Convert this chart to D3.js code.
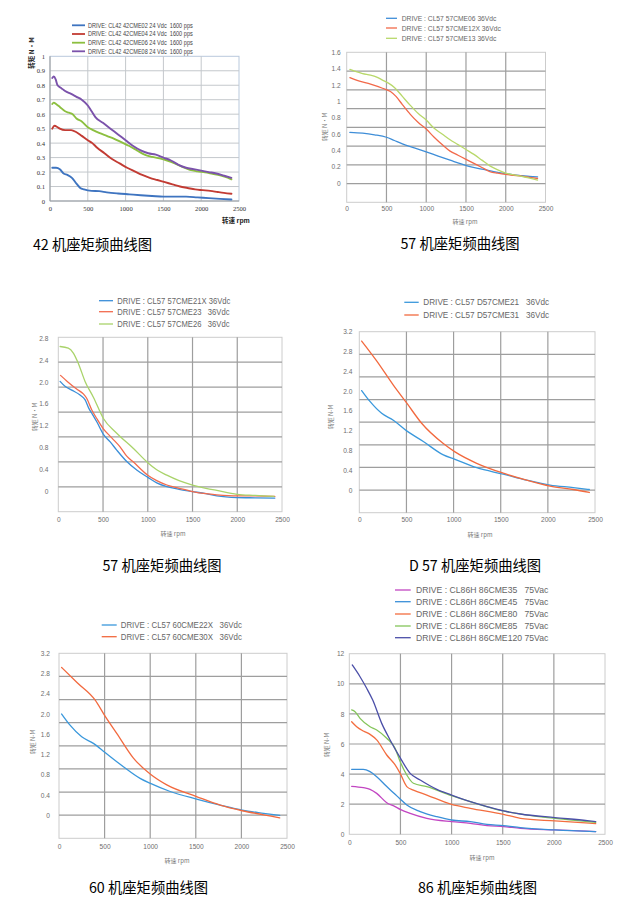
<!DOCTYPE html>
<html><head><meta charset="utf-8">
<script src="https://cdn.jsdelivr.net/npm/d3@7"></script>
<style>body{margin:0;background:#fff}svg{display:block}</style>
</head><body><svg id="c" width="635" height="914"></svg>
<script>
// ---------- DATA ----------
const xTicks = [0, 500, 1000, 1500, 2000, 2500];

// 42 frame
const y42Ticks = [0, 0.1, 0.2, 0.3, 0.4, 0.5, 0.6, 0.7, 0.8, 0.9, 1];
const names42 = ["DRIVE: CL42 42CME02 24 Vdc  1600 pps", "DRIVE: CL42 42CME04 24 Vdc  1600 pps", "DRIVE: CL42 42CME06 24 Vdc  1600 pps", "DRIVE: CL42 42CME08 24 Vdc  1600 pps"];
const cme42_02 = [[30,0.23],[80,0.23],[130,0.22],[180,0.19],[230,0.18],[290,0.16],[350,0.12],[400,0.09],[450,0.08],[550,0.07],[650,0.068],[750,0.06],[900,0.052],[1050,0.046],[1200,0.04],[1350,0.035],[1500,0.03],[1650,0.03],[1800,0.03],[1950,0.025],[2100,0.02],[2250,0.015],[2400,0.01]];
const cme42_04 = [[30,0.50],[60,0.52],[100,0.51],[130,0.50],[200,0.49],[280,0.49],[350,0.475],[420,0.45],[500,0.42],[560,0.40],[620,0.37],[720,0.33],[820,0.29],[920,0.26],[1020,0.23],[1120,0.205],[1220,0.18],[1320,0.16],[1420,0.145],[1520,0.13],[1620,0.115],[1720,0.10],[1820,0.09],[1920,0.08],[2020,0.075],[2120,0.07],[2220,0.062],[2300,0.056],[2400,0.05]];
const cme42_06 = [[30,0.67],[50,0.68],[80,0.67],[130,0.65],[200,0.62],[250,0.61],[300,0.60],[350,0.57],[420,0.55],[500,0.51],[570,0.49],[650,0.47],[750,0.45],[850,0.43],[950,0.405],[1050,0.38],[1150,0.35],[1250,0.32],[1350,0.305],[1450,0.295],[1550,0.28],[1650,0.26],[1750,0.235],[1850,0.215],[1950,0.205],[2050,0.198],[2150,0.188],[2250,0.178],[2350,0.162],[2400,0.15]];
const cme42_08 = [[30,0.85],[50,0.86],[75,0.84],[100,0.80],[150,0.78],[200,0.76],[280,0.74],[350,0.72],[420,0.70],[500,0.66],[550,0.62],[600,0.58],[700,0.54],[800,0.50],[900,0.46],[1000,0.42],[1100,0.38],[1200,0.35],[1300,0.33],[1400,0.32],[1500,0.30],[1600,0.28],[1700,0.25],[1800,0.23],[1900,0.22],[2000,0.21],[2100,0.20],[2200,0.19],[2300,0.175],[2400,0.16]];

// 57 frame (first)
const y57aTicks = [0, 0.2, 0.4, 0.6, 0.8, 1, 1.2, 1.4, 1.6];
const names57a = ["DRIVE : CL57 57CME06 36Vdc", "DRIVE : CL57 57CME12X 36Vdc", "DRIVE : CL57 57CME13 36Vdc"];
const cme57_06 = [[40,0.62],[200,0.61],[350,0.59],[500,0.56],[600,0.52],[700,0.48],[850,0.43],[1000,0.38],[1150,0.33],[1300,0.28],[1450,0.23],[1550,0.20],[1700,0.17],[1850,0.14],[2000,0.115],[2100,0.10],[2200,0.09],[2300,0.08],[2400,0.075]];
const cme57_12x = [[40,1.29],[150,1.25],[300,1.21],[450,1.16],[550,1.12],[620,1.06],[700,0.96],[800,0.84],[900,0.74],[1000,0.66],[1100,0.56],[1200,0.47],[1300,0.39],[1400,0.34],[1500,0.29],[1600,0.24],[1700,0.19],[1800,0.14],[1900,0.12],[2000,0.105],[2100,0.095],[2200,0.085],[2300,0.07],[2400,0.055]];
const cme57_13 = [[40,1.39],[100,1.37],[200,1.34],[300,1.32],[370,1.30],[450,1.26],[530,1.22],[600,1.17],[700,1.06],[800,0.95],[900,0.85],[1000,0.77],[1100,0.67],[1200,0.60],[1300,0.53],[1400,0.47],[1500,0.41],[1600,0.35],[1700,0.28],[1800,0.21],[1900,0.16],[2000,0.12],[2100,0.10],[2200,0.08],[2300,0.06],[2400,0.035]];

// 57 frame (second)
const y57bTicks = [0, 0.4, 0.8, 1.2, 1.6, 2.0, 2.4, 2.8];
const names57b = ["DRIVE : CL57 57CME21X 36Vdc", "DRIVE : CL57 57CME23   36Vdc", "DRIVE : CL57 57CME26   36Vdc"];
const cme57_21x = [[20,2.01],[75,1.92],[150,1.85],[243,1.76],[300,1.67],[340,1.52],[373,1.43],[430,1.27],[504,1.04],[580,0.90],[653,0.75],[765,0.54],[880,0.38],[1000,0.25],[1100,0.15],[1213,0.08],[1350,0.03],[1500,-0.01],[1650,-0.05],[1772,-0.09],[2000,-0.12],[2200,-0.125],[2420,-0.13]];
const cme57_23 = [[25,2.12],[100,2.01],[205,1.87],[280,1.78],[317,1.70],[373,1.49],[430,1.33],[504,1.14],[600,0.97],[690,0.81],[765,0.64],[840,0.53],[1000,0.29],[1100,0.19],[1213,0.11],[1350,0.05],[1500,-0.01],[1650,-0.05],[1772,-0.07],[2000,-0.09],[2200,-0.09],[2420,-0.10]];
const cme57_26 = [[20,2.65],[112,2.62],[168,2.53],[224,2.34],[299,2.01],[392,1.72],[504,1.33],[653,1.06],[840,0.78],[1000,0.52],[1100,0.39],[1213,0.29],[1350,0.19],[1500,0.11],[1650,0.05],[1772,0.01],[2000,-0.06],[2200,-0.08],[2410,-0.10]];

// D57 frame
const yD57Ticks = [0, 0.4, 0.8, 1.2, 1.6, 2.0, 2.4, 2.8, 3.2];
const namesD57 = ["DRIVE : CL57 D57CME21   36Vdc", "DRIVE : CL57 D57CME31   36Vdc"];
const d57_21 = [[25,2.01],[113,1.79],[237,1.55],[361,1.41],[506,1.19],[679,0.98],[891,0.71],[1015,0.62],[1245,0.45],[1527,0.32],[1775,0.20],[2023,0.10],[2270,0.05],[2440,0.01]];
const d57_31 = [[25,3.01],[184,2.61],[361,2.12],[506,1.75],[661,1.35],[891,0.94],[1015,0.77],[1245,0.54],[1527,0.34],[1775,0.20],[2023,0.08],[2270,0.01],[2440,-0.05]];

// 60 frame
const y60Ticks = [0, 0.4, 0.8, 1.2, 1.6, 2.0, 2.4, 2.8, 3.2];
const names60 = ["DRIVE : CL57 60CME22X   36Vdc", "DRIVE : CL57 60CME30X   36Vdc"];
const cme60_22x = [[29,2.00],[121,1.78],[249,1.55],[377,1.42],[505,1.24],[706,0.96],[889,0.73],[1003,0.63],[1219,0.47],[1508,0.32],[1768,0.20],[2010,0.10],[2244,0.04],[2420,0.00]];
const cme60_30x = [[29,2.92],[200,2.62],[395,2.28],[505,1.96],[633,1.62],[816,1.13],[1003,0.81],[1182,0.60],[1508,0.37],[1768,0.20],[2010,0.09],[2244,0.01],[2420,-0.05]];

// 86 frame
const y86Ticks = [0, 2, 4, 6, 8, 10, 12];
const names86 = ["DRIVE : CL86H 86CME35   75Vac", "DRIVE : CL86H 86CME45   75Vac", "DRIVE : CL86H 86CME80   75Vac", "DRIVE : CL86H 86CME85   75Vac", "DRIVE : CL86H 86CME120 75Vac"];
const cme86_35 = [[23,3.19],[137,3.10],[203,2.99],[268,2.72],[366,2.10],[448,1.84],[497,1.66],[595,1.39],[758,1.06],[1000,0.84],[1183,0.73],[1346,0.58],[1507,0.51],[1673,0.40],[2010,0.29],[2409,0.18]];
const cme86_45 = [[23,4.32],[137,4.32],[203,4.16],[268,3.83],[366,3.17],[448,2.66],[497,2.35],[562,1.95],[693,1.51],[856,1.17],[1000,0.95],[1183,0.84],[1346,0.66],[1507,0.58],[1673,0.44],[2010,0.29],[2409,0.18]];
const cme86_80 = [[23,7.48],[72,7.15],[137,6.86],[203,6.64],[268,6.27],[366,5.27],[448,4.61],[497,4.05],[562,3.17],[627,2.94],[758,2.61],[1000,1.99],[1183,1.73],[1507,1.33],[1673,1.06],[2010,0.89],[2409,0.71]];
const cme86_85 = [[23,8.26],[56,8.15],[105,7.70],[203,7.15],[268,6.93],[366,6.38],[448,5.71],[497,4.83],[562,3.94],[627,3.39],[758,3.17],[1000,2.57],[1183,2.17],[1507,1.55],[1738,1.28],[2010,1.06],[2409,0.80]];
const cme86_120 = [[29,11.25],[105,10.47],[170,9.70],[229,8.92],[317,7.37],[399,6.27],[497,5.09],[595,4.05],[693,3.61],[856,2.99],[1000,2.61],[1183,2.17],[1346,1.84],[1507,1.55],[1673,1.35],[2010,1.11],[2327,0.91],[2409,0.84]];

const captions = ["42 机座矩频曲线图", "57 机座矩频曲线图", "57 机座矩频曲线图", "D 57 机座矩频曲线图", "60 机座矩频曲线图", "86 机座矩频曲线图"];

// ---------- LAYOUT / STYLE ----------
const SANS = "'Liberation Sans', Arial, sans-serif";
const xcol = ["#3e74c0", "#c23b33", "#8cbf3f", "#7b52ab"];
const panels = [
  { left:50, right:239, top:56.3, bottom:201, zeroY:201, topY:56.3, yMax:1, rows:10,
    yTicks:y42Ticks, fmt:d3.format(""), yPad:5, xPad:5.5, excel:true,
    series:[cme42_02,cme42_04,cme42_06,cme42_08], names:names42, colors:xcol, lw:1.9,
    leg:{x1:72, x2:85, tx:88, ys:[25.3,34,42.7,51.3], fs:6.5, sx:0.86},
    yTitle:{x:32, y:53, t:"转矩 N·M"}, xTitle:{x:236, y:221, t:"转速 rpm"} },
  { left:346.7, right:545.5, top:52.3, bottom:202.3, zeroY:183, topY:52.3, yMax:1.6, rows:8,
    yTicks:y57aTicks, fmt:d3.format(""), yPad:6, xPad:3.8,
    series:[cme57_06,cme57_12x,cme57_13], names:names57a, colors:["#3f8ed8","#f2694a","#b8d86a"], lw:1.3,
    leg:{x1:386, x2:397, tx:401.7, ys:[18.3,28,38.3], fs:8, sx:0.84},
    yTitle:{x:325, y:127, t:"转矩 N·M"}, xTitle:{x:465, y:222, t:"转速 rpm"} },
  { left:58.3, right:282, top:337.3, bottom:511.7, zeroY:491, topY:338.3, yMax:2.8, rows:7,
    yTicks:y57bTicks, fmt:d => d===0 ? "0" : d3.format(".1f")(d), yPad:10, xPad:5.3,
    series:[cme57_21x,cme57_23,cme57_26], names:names57b, colors:["#3a8ed8","#f26b4e","#a9d36a"], lw:1.3,
    leg:{x1:99, x2:113, tx:117.3, ys:[300.7,311.7,324], fs:8.8, sx:0.87},
    yTitle:{x:35, y:417, t:"转矩 N·M"}, xTitle:{x:173, y:534, t:"转速 rpm"} },
  { left:359.3, right:595, top:331.7, bottom:512.7, zeroY:490, topY:331.7, yMax:3.2, rows:8,
    yTicks:yD57Ticks, fmt:d => d===0 ? "0" : d3.format(".1f")(d), yPad:7, xPad:4.3,
    series:[d57_21,d57_31], names:namesD57, colors:["#3a98dc","#f2693e"], lw:1.3,
    leg:{x1:404.3, x2:418.7, tx:423.3, ys:[302.3,315], fs:9.1, sx:0.9},
    yTitle:{x:331, y:417, t:"转矩 N-M"}, xTitle:{x:480, y:535, t:"转速 rpm"} },
  { left:59, right:287, top:653.3, bottom:838.3, zeroY:815.3, topY:653.3, yMax:3.2, rows:8,
    yTicks:y60Ticks, fmt:d => d===0 ? "0" : d3.format(".1f")(d), yPad:9, xPad:6,
    series:[cme60_22x,cme60_30x], names:names60, colors:["#3a98dc","#f2693e"], lw:1.3,
    leg:{x1:101.7, x2:116.7, tx:120.7, ys:[625,636.7], fs:9.1, sx:0.87},
    yTitle:{x:33, y:742, t:"转矩 N-M"}, xTitle:{x:177, y:861, t:"转速 rpm"} },
  { left:349.3, right:605, top:653.7, bottom:834.3, zeroY:834.3, topY:653.7, yMax:12, rows:6,
    yTicks:y86Ticks, fmt:d3.format(""), yPad:5, xPad:6,
    series:[cme86_35,cme86_45,cme86_80,cme86_85,cme86_120], names:names86, colors:["#c246c2","#3a8fd8","#f36d3f","#84c55a","#4b4fa8"], lw:1.3,
    leg:{x1:395, x2:410.7, tx:416, ys:[590,601.7,614,626,637.7], fs:9.4, sx:0.92},
    yTitle:{x:327, y:745, t:"转矩 N-M"}, xTitle:{x:482, y:858, t:"转速 rpm"} }
];
const capPos = [[92.5,250],[460,249],[162,571],[475,571],[148.5,893],[477.5,893]];

// ---------- DRAW ----------
const svg = d3.select("#c");

panels.forEach(p => {
  const g = svg.append("g");
  const x = d3.scaleLinear().domain([0, 2500]).range([p.left, p.right]);
  const y = d3.scaleLinear().domain([0, p.yMax]).range([p.zeroY, p.topY]);
  const gy = d3.scaleLinear().domain([0, p.rows]).range([p.bottom, p.top]);
  const gridCol = p.excel ? "#c4c8cc" : "#9e9e9e";
  const gridW = p.excel ? 1 : 1.2;
  const txtCol = p.excel ? "#333" : "#6e6e6e";
  const tickFont = p.excel ? "'Liberation Serif', 'DejaVu Serif', serif" : SANS;
  const tickFs = 6.6;

  g.append("rect").attr("x", p.left).attr("y", p.top)
    .attr("width", p.right - p.left).attr("height", p.bottom - p.top)
    .attr("fill", "#fff").attr("stroke", p.excel ? "#b9c9dc" : "#cccccc").attr("stroke-width", 1);

  g.selectAll(null).data(d3.range(1, p.rows)).join("line")
    .attr("x1", p.left).attr("x2", p.right)
    .attr("y1", d => gy(d)).attr("y2", d => gy(d))
    .attr("stroke", gridCol).attr("stroke-width", gridW);
  g.selectAll(null).data(xTicks.slice(1, -1)).join("line")
    .attr("x1", d => x(d)).attr("x2", d => x(d))
    .attr("y1", p.top).attr("y2", p.bottom)
    .attr("stroke", gridCol).attr("stroke-width", gridW);
  if (p.excel) {
    g.append("line").attr("x1", p.left).attr("x2", p.left).attr("y1", p.top).attr("y2", p.bottom).attr("stroke", "#9a9a9a");
    g.append("line").attr("x1", p.left).attr("x2", p.right).attr("y1", p.bottom).attr("y2", p.bottom).attr("stroke", "#9a9a9a");
  }

  const ya = g.append("g").attr("transform", `translate(${p.left},0)`)
    .call(d3.axisLeft(y).tickValues(p.yTicks).tickSize(0).tickPadding(p.yPad).tickFormat(p.fmt));
  ya.select(".domain").remove();
  ya.selectAll("text").attr("fill", txtCol).attr("font-family", tickFont).attr("font-size", tickFs);

  const xa = g.append("g").attr("transform", `translate(0,${p.bottom})`)
    .call(d3.axisBottom(x).tickValues(xTicks).tickSize(0).tickPadding(p.xPad).tickFormat(d3.format("")));
  xa.select(".domain").remove();
  xa.selectAll("text").attr("fill", txtCol).attr("font-family", tickFont).attr("font-size", tickFs);

  const line = d3.line().x(d => x(d[0])).y(d => y(d[1])).curve(d3.curveMonotoneX);
  p.series.forEach((s, i) => {
    g.append("path").datum(s).attr("d", line).attr("fill", "none")
      .attr("stroke", p.colors[i]).attr("stroke-width", p.lw)
      .attr("stroke-linejoin", "round").attr("stroke-linecap", "round");
  });

  p.names.forEach((n, i) => {
    const ly = p.leg.ys[i];
    g.append("line").attr("x1", p.leg.x1).attr("x2", p.leg.x2).attr("y1", ly).attr("y2", ly)
      .attr("stroke", p.colors[i]).attr("stroke-width", p.excel ? 1.8 : 1.3);
    g.append("text").attr("transform", `translate(${p.leg.tx},${ly}) scale(${p.leg.sx},1)`)
      .attr("dy", "0.35em").attr("font-family", SANS).attr("font-size", p.leg.fs)
      .attr("fill", p.excel ? "#444" : "#666").style("white-space", "pre").text(n);
  });

  g.append("text").attr("transform", `translate(${p.yTitle.x},${p.yTitle.y}) rotate(-90)`)
    .attr("text-anchor", "middle").attr("dy", "0.35em")
    .attr("font-family", "'Noto Sans CJK SC', sans-serif").attr("font-size", p.excel ? 6.5 : 6)
    .attr("font-weight", p.excel ? "bold" : "normal").attr("fill", p.excel ? "#222" : "#777").text(p.yTitle.t);
  g.append("text").attr("x", p.xTitle.x).attr("y", p.xTitle.y)
    .attr("text-anchor", "middle").attr("dy", "0.35em")
    .attr("font-family", "'Noto Sans CJK SC', sans-serif").attr("font-size", p.excel ? 6.5 : 6)
    .attr("font-weight", p.excel ? "bold" : "normal").attr("fill", p.excel ? "#222" : "#777").text(p.xTitle.t);
});

svg.selectAll("text.cap").data(captions).join("text").attr("class", "cap")
  .attr("x", (d, i) => capPos[i][0]).attr("y", (d, i) => capPos[i][1])
  .attr("text-anchor", "middle").attr("font-family", "'Noto Sans CJK SC', sans-serif")
  .attr("font-size", 14.3).attr("font-weight", 400).attr("fill", "#000").text(d => d);
</script></body></html>
